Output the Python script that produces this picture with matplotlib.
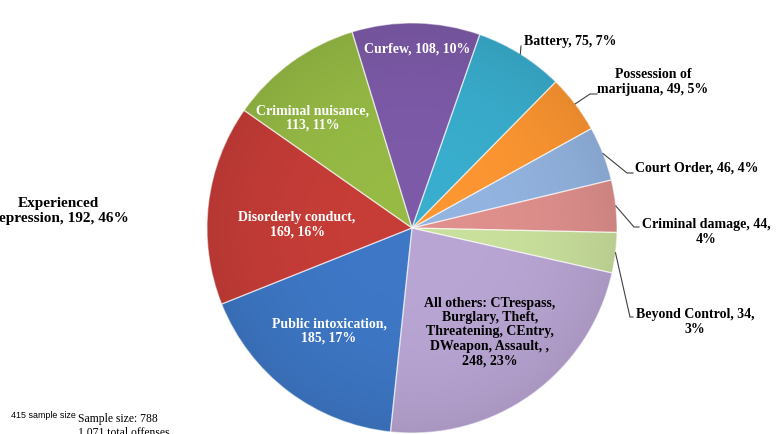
import matplotlib
matplotlib.use("Agg")
import matplotlib.pyplot as plt
import numpy as np
from matplotlib.colors import to_rgb

W, H = 777, 434

# offense categories, clockwise from the top
offenses = ["Curfew", "Battery", "Possession of\nmarijuana", "Court Order",
            "Criminal damage", "Beyond Control",
            "All others: CTrespass,\nBurglary, Theft,\nThreatening, CEntry,\nDWeapon, Assault, ",
            "Public intoxication", "Disorderly conduct", "Criminal nuisance"]
counts = [108, 75, 49, 46, 44, 34, 248, 185, 169, 113]
colors = ["#7A58A4", "#38A9C8", "#F69230", "#8FAFDA", "#D98C89",
          "#C4DA98", "#B4A1CE", "#3C74C0", "#C13B36", "#92B543"]
# where the label wraps: after the name or after the count
breaks = [None, None, None, None, "count", "count", "name", "name", "name", "name"]

sample_size = 415
depressed = 192
offender_sample = 788

total = sum(counts)


def make_label(name, v, brk):
    p = round(v / total * 100)
    if brk == "name":
        return f"{name},\n{v}, {p}%"
    if brk == "count":
        return f"{name}, {v},\n{p}%"
    return f"{name}, {v}, {p}%"


def px(x, y):
    # pixel coords measured from the top-left corner
    return x, H - y


fig = plt.figure(figsize=(W / 100, H / 100), dpi=100)
ax = fig.add_axes([0, 0, 1, 1])

cx, cy = px(412, 228)
r = 205
wedges, _ = ax.pie(counts, colors=colors, startangle=107, counterclock=False,
                   center=(cx, cy), radius=r)

# light radial shading inside each slice
n = 400
yy, xx = np.mgrid[-1:1:n * 1j, -1:1:n * 1j]
rr = np.clip(np.hypot(xx, yy), 0, 1)
shade = 1.03 - 0.09 * rr ** 3
for w, c in zip(wedges, colors):
    img = np.clip(shade[..., None] * np.array(to_rgb(c)), 0, 1)
    im = ax.imshow(img, extent=(cx - r, cx + r, cy - r, cy + r), origin="lower",
                   zorder=1, interpolation="bilinear")
    im.set_clip_path(w)
    w.set_facecolor("none")
    w.set_edgecolor((1, 1, 1, 0.5))
    w.set_linewidth(0.9)
    w.set_zorder(2)

serif = "Liberation Serif"
lab_kw = dict(family=serif, fontweight="bold", fontsize=10, linespacing=1.15)

# labels drawn inside the slices
inside = {0: (417, 49, "white"), 6: (490, 332, "black"), 7: (329, 331, "white"),
          8: (297, 225, "white"), 9: (313, 118, "white")}
for i, (x, y, col) in inside.items():
    ax.text(*px(x, y), make_label(offenses[i], counts[i], breaks[i]),
            ha="center", va="center", color=col, zorder=4, **lab_kw)

# labels outside with leader lines: elbow, line end, text position, alignment
outside = {1: ((521, 46), (521, 46), (524, 41), "left"),
           2: ((590, 94), (597, 94), (653, 82), "center"),
           3: ((627, 173), (633, 173), (635, 168), "left"),
           4: ((634, 227), (639, 227), (706, 232), "center"),
           5: ((630, 317), (633, 317), (695, 322), "center")}
for i, (elbow, end, txt, ha) in outside.items():
    w = wedges[i]
    mid = np.deg2rad((w.theta1 + w.theta2) / 2)
    x0, y0 = cx + r * np.cos(mid), cy + r * np.sin(mid)
    ex, ey = px(*elbow)
    fx, fy = px(*end)
    ax.plot([x0, ex, fx], [y0, ey, fy], color="#404040", lw=0.8, zorder=3)
    ax.text(*px(*txt), make_label(offenses[i], counts[i], breaks[i]),
            ha=ha, va="center", color="black", zorder=4, **lab_kw)

pct_dep = round(depressed / sample_size * 100)
ax.text(*px(58, 211), f"Experienced\nDepression, {depressed}, {pct_dep}%",
        ha="center", va="center", family=serif, fontweight="bold",
        fontsize=11, linespacing=1.15)

ax.text(*px(11, 416), f"{sample_size} sample size", ha="left", va="center",
        family="Liberation Sans", fontsize=6.4)
ax.text(*px(78, 426), f"Sample size: {offender_sample}\n{total:,} total offenses",
        ha="left", va="center", family=serif, fontsize=8.4, linespacing=1.2)

ax.set_xlim(0, W)
ax.set_ylim(0, H)
ax.set_aspect("equal")
ax.axis("off")

fig.savefig("out.png", dpi=100)
